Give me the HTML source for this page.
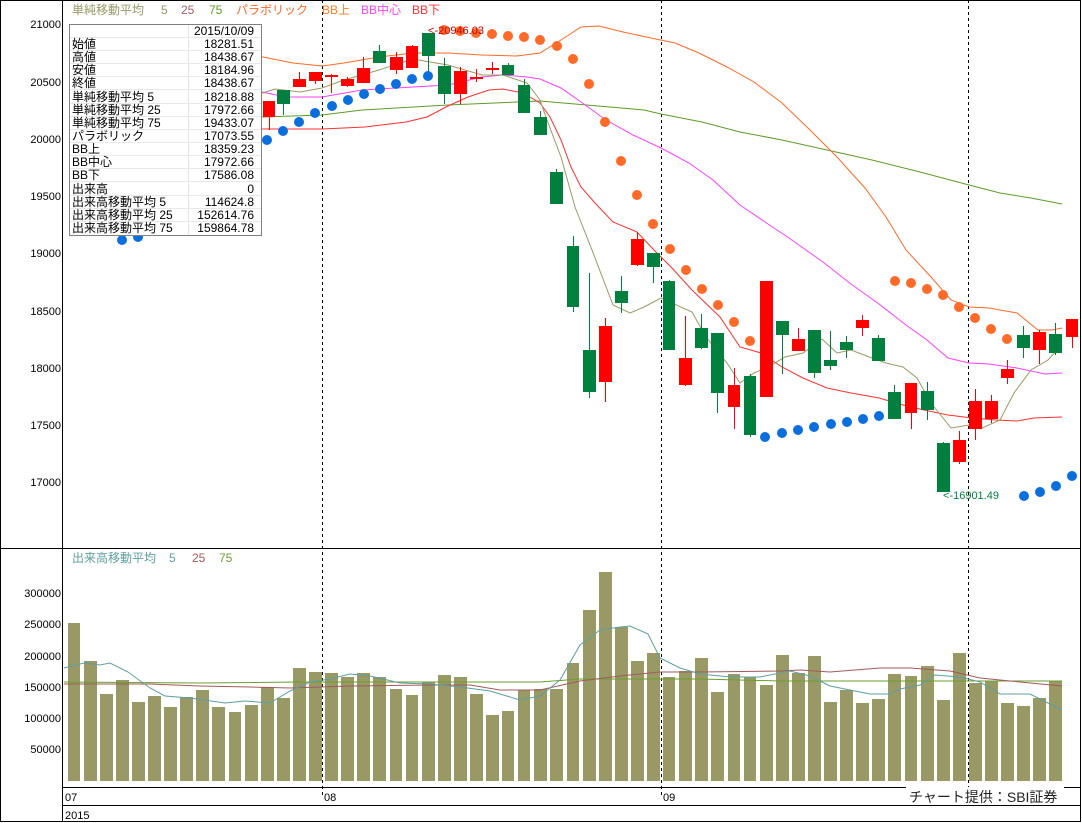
<!DOCTYPE html>
<html><head><meta charset="utf-8"><style>
html,body{margin:0;padding:0;background:#fff}
svg{display:block}
text{font-family:"Liberation Sans","Noto Sans CJK JP",sans-serif}
</style></head><body>
<svg width="1082" height="823" viewBox="0 0 1082 823" xmlns="http://www.w3.org/2000/svg">
<rect x="0" y="0" width="1082" height="823" fill="#fff"/>
<g stroke="#000" stroke-width="1" stroke-dasharray="3,3">
<line x1="322.5" y1="0" x2="322.5" y2="797"/>
<line x1="661.5" y1="0" x2="661.5" y2="797"/>
<line x1="968.5" y1="0" x2="968.5" y2="797"/>
</g>
<g fill="none" stroke-width="1">
<polyline stroke="#5f9a2a" points="253,117 263,117 322,115 362,110 448,105 540,101 575,104 644,110 661,114 702,122 740,132 782,140 827,150 872,160 920,172 969,185 1000,193 1031,198 1062,204"/>
<polyline stroke="#ff6a28" points="253,57 263,57 293,63 322,66 344,63 379,57 413,53 448,53 482,55 517,56 540,53 561,40 581,27 599,26 623,32 651,38 675,43 699,53 727,67 754,82 782,103 810,130 837,157 865,188 886,217 906,250 931,277 951,300 969,307 989,308 1017,313 1038,330 1052,330 1062,328"/>
<polyline stroke="#ff40ff" points="253,90 262,92 286,97 322,97 362,90 413,87 448,85 482,77 503,75 527,77 540,79 561,88 581,102 606,120 633,135 661,148 689,163 713,180 740,205 765,222 789,238 813,255 823,262 851,284 879,304 906,325 927,340 948,358 969,363 989,364 1017,368 1045,374 1062,373"/>
<polyline stroke="#ff3030" points="253,129 263,129 322,129 365,127 406,122 427,117 448,106 468,97 489,90 503,89 523,93 540,103 550,117 561,140 571,167 581,187 595,203 613,222 637,232 654,250 671,267 692,290 720,317 740,347 761,353 782,367 803,378 827,388 851,393 879,398 903,405 924,410 948,415 972,418 996,420 1017,421 1034,418 1062,417"/>
<polyline stroke="#999966" points="253,96 275,89 300,92 322,88 344,80 379,70 413,59 430,62 448,65 482,75 503,75 527,83 540,100 547,120 561,157 575,207 592,250 613,305 630,313 644,307 661,298 692,312 706,337 727,363 740,383 754,373 768,367 785,357 803,353 822,339 837,353 851,350 872,358 886,363 903,367 917,378 931,403 951,428 969,425 982,428 1000,420 1014,393 1031,370 1048,360 1062,345"/>
</g>
<g fill="#ff0000" stroke="#ff0000">
<line x1="269.5" y1="101" x2="269.5" y2="130"/><rect x="263" y="101" width="12" height="16" stroke="none"/>
<line x1="299.5" y1="72" x2="299.5" y2="87"/><rect x="293" y="79" width="13" height="8" stroke="none"/>
<line x1="315.5" y1="72" x2="315.5" y2="84"/><rect x="309" y="72" width="13" height="9" stroke="none"/>
<line x1="331.5" y1="74" x2="331.5" y2="93"/><rect x="325" y="75" width="13" height="2" stroke="none"/>
<line x1="347.5" y1="77" x2="347.5" y2="87"/><rect x="341" y="79" width="13" height="7" stroke="none"/>
<line x1="363.5" y1="57" x2="363.5" y2="83"/><rect x="357" y="68" width="13" height="15" stroke="none"/>
<line x1="396.5" y1="52" x2="396.5" y2="74"/><rect x="390" y="57" width="13" height="13" stroke="none"/>
<line x1="412.5" y1="45" x2="412.5" y2="68"/><rect x="406" y="46" width="12" height="22" stroke="none"/>
<line x1="460.5" y1="67" x2="460.5" y2="104"/><rect x="454" y="71" width="13" height="23" stroke="none"/>
<line x1="476.5" y1="69" x2="476.5" y2="82"/><rect x="470" y="77" width="13" height="2" stroke="none"/>
<line x1="492.5" y1="62" x2="492.5" y2="74"/><rect x="486" y="68" width="13" height="2" stroke="none"/>
<line x1="605.5" y1="318" x2="605.5" y2="402"/><rect x="599" y="326" width="13" height="56" stroke="none"/>
<line x1="637.5" y1="232" x2="637.5" y2="266"/><rect x="631" y="239" width="13" height="26" stroke="none"/>
<line x1="685.5" y1="316" x2="685.5" y2="386"/><rect x="679" y="358" width="13" height="27" stroke="none"/>
<line x1="734.5" y1="368" x2="734.5" y2="429"/><rect x="728" y="385" width="12" height="22" stroke="none"/>
<rect x="760" y="281" width="13" height="116" stroke="none"/>
<line x1="798.5" y1="328" x2="798.5" y2="351"/><rect x="792" y="339" width="13" height="12" stroke="none"/>
<line x1="862.5" y1="315" x2="862.5" y2="336"/><rect x="856" y="320" width="13" height="8" stroke="none"/>
<line x1="911.5" y1="383" x2="911.5" y2="429"/><rect x="905" y="383" width="12" height="30" stroke="none"/>
<line x1="959.5" y1="431" x2="959.5" y2="464"/><rect x="953" y="440" width="13" height="22" stroke="none"/>
<line x1="975.5" y1="389" x2="975.5" y2="440"/><rect x="969" y="401" width="13" height="28" stroke="none"/>
<line x1="991.5" y1="395" x2="991.5" y2="423"/><rect x="985" y="401" width="13" height="18" stroke="none"/>
<line x1="1007.5" y1="360" x2="1007.5" y2="384"/><rect x="1001" y="369" width="13" height="9" stroke="none"/>
<line x1="1039.5" y1="330" x2="1039.5" y2="364"/><rect x="1033" y="332" width="13" height="18" stroke="none"/>
<line x1="1072.5" y1="319" x2="1072.5" y2="348"/><rect x="1066" y="319" width="12" height="18" stroke="none"/>
</g>
<g fill="#007f3f" stroke="#007f3f">
<line x1="283.5" y1="90" x2="283.5" y2="115"/><rect x="277" y="90" width="13" height="14" stroke="none"/>
<line x1="379.5" y1="45" x2="379.5" y2="63"/><rect x="373" y="51" width="13" height="12" stroke="none"/>
<line x1="428.5" y1="33" x2="428.5" y2="72"/><rect x="422" y="33" width="13" height="23" stroke="none"/>
<line x1="444.5" y1="58" x2="444.5" y2="104"/><rect x="438" y="66" width="13" height="28" stroke="none"/>
<line x1="508.5" y1="63" x2="508.5" y2="75"/><rect x="502" y="65" width="12" height="10" stroke="none"/>
<line x1="524.5" y1="79" x2="524.5" y2="113"/><rect x="518" y="85" width="12" height="28" stroke="none"/>
<line x1="540.5" y1="111" x2="540.5" y2="135"/><rect x="534" y="117" width="13" height="18" stroke="none"/>
<line x1="556.5" y1="169" x2="556.5" y2="204"/><rect x="550" y="172" width="13" height="32" stroke="none"/>
<line x1="573.5" y1="236" x2="573.5" y2="312"/><rect x="567" y="246" width="12" height="61" stroke="none"/>
<line x1="589.5" y1="273" x2="589.5" y2="398"/><rect x="583" y="350" width="13" height="42" stroke="none"/>
<line x1="621.5" y1="276" x2="621.5" y2="313"/><rect x="615" y="291" width="13" height="12" stroke="none"/>
<line x1="653.5" y1="253" x2="653.5" y2="283"/><rect x="647" y="253" width="13" height="14" stroke="none"/>
<line x1="669.5" y1="280" x2="669.5" y2="350"/><rect x="663" y="281" width="12" height="69" stroke="none"/>
<line x1="701.5" y1="314" x2="701.5" y2="349"/><rect x="695" y="328" width="13" height="20" stroke="none"/>
<line x1="717.5" y1="333" x2="717.5" y2="413"/><rect x="711" y="333" width="13" height="60" stroke="none"/>
<line x1="750.5" y1="374" x2="750.5" y2="437"/><rect x="744" y="376" width="12" height="59" stroke="none"/>
<line x1="782.5" y1="321" x2="782.5" y2="374"/><rect x="776" y="321" width="13" height="14" stroke="none"/>
<line x1="814.5" y1="330" x2="814.5" y2="378"/><rect x="808" y="330" width="13" height="43" stroke="none"/>
<line x1="830.5" y1="331" x2="830.5" y2="370"/><rect x="824" y="360" width="13" height="6" stroke="none"/>
<line x1="846.5" y1="336" x2="846.5" y2="358"/><rect x="840" y="342" width="13" height="8" stroke="none"/>
<line x1="878.5" y1="335" x2="878.5" y2="361"/><rect x="872" y="338" width="13" height="23" stroke="none"/>
<line x1="894.5" y1="385" x2="894.5" y2="419"/><rect x="888" y="392" width="13" height="27" stroke="none"/>
<line x1="927.5" y1="382" x2="927.5" y2="420"/><rect x="921" y="391" width="13" height="19" stroke="none"/>
<line x1="943.5" y1="442" x2="943.5" y2="492"/><rect x="937" y="443" width="13" height="49" stroke="none"/>
<line x1="1023.5" y1="326" x2="1023.5" y2="358"/><rect x="1017" y="335" width="13" height="13" stroke="none"/>
<line x1="1055.5" y1="323" x2="1055.5" y2="355"/><rect x="1049" y="334" width="13" height="19" stroke="none"/>
</g>
<g fill="#ff6a28">
<circle cx="444" cy="30" r="5"/><circle cx="460" cy="31" r="5"/><circle cx="476" cy="33" r="5"/><circle cx="492" cy="34" r="5"/><circle cx="508" cy="36" r="5"/><circle cx="524" cy="37" r="5"/><circle cx="540" cy="40" r="5"/><circle cx="557" cy="46" r="5"/><circle cx="573" cy="59" r="5"/><circle cx="589" cy="84" r="5"/><circle cx="605" cy="122" r="5"/><circle cx="621" cy="161" r="5"/><circle cx="637" cy="195" r="5"/><circle cx="653" cy="224" r="5"/><circle cx="670" cy="249" r="5"/><circle cx="686" cy="270" r="5"/><circle cx="702" cy="289" r="5"/><circle cx="718" cy="305" r="5"/><circle cx="734" cy="322" r="5"/><circle cx="750" cy="341" r="5"/>
<circle cx="895" cy="281" r="5"/><circle cx="911" cy="283" r="5"/><circle cx="927" cy="289" r="5"/><circle cx="943" cy="295" r="5"/><circle cx="959" cy="307" r="5"/><circle cx="975" cy="318" r="5"/><circle cx="991" cy="329" r="5"/><circle cx="1007" cy="339" r="5"/>
</g>
<g fill="#0a6fdc">
<circle cx="122" cy="240" r="5"/><circle cx="138" cy="237" r="5"/>
<circle cx="267" cy="140" r="5"/><circle cx="283" cy="131" r="5"/><circle cx="299" cy="122" r="5"/><circle cx="315" cy="113" r="5"/><circle cx="332" cy="106" r="5"/><circle cx="348" cy="100" r="5"/><circle cx="364" cy="94" r="5"/><circle cx="380" cy="89" r="5"/><circle cx="396" cy="84" r="5"/><circle cx="412" cy="79" r="5"/><circle cx="428" cy="76" r="5"/>
<circle cx="765" cy="437" r="5"/><circle cx="782" cy="433" r="5"/><circle cx="798" cy="430" r="5"/><circle cx="814" cy="427" r="5"/><circle cx="831" cy="424" r="5"/><circle cx="847" cy="422" r="5"/><circle cx="863" cy="419" r="5"/><circle cx="879" cy="416" r="5"/>
<circle cx="1024" cy="496" r="5"/><circle cx="1040" cy="492" r="5"/><circle cx="1056" cy="486" r="5"/><circle cx="1072" cy="476" r="5"/>
</g>
<text x="428" y="34" font-size="11" fill="#c00000">&lt;-20946.03</text>
<text x="943" y="499" font-size="11" fill="#007f3f">&lt;-16901.49</text>
<g font-size="12">
<text x="72" y="14" fill="#999966">単純移動平均</text>
<text x="161" y="14" fill="#999966">5</text>
<text x="181" y="14" fill="#a0606a">25</text>
<text x="209" y="14" fill="#5f9a2a">75</text>
<text x="236" y="14" fill="#ff6a28">パラボリック</text>
<text x="322" y="14" fill="#ff7f27">BB上</text>
<text x="361" y="14" fill="#ff40ff">BB中心</text>
<text x="412" y="14" fill="#ff3030">BB下</text>
</g>
<rect x="69.5" y="24.5" width="192" height="211" fill="#fff" stroke="#808080"/>
<line x1="188.5" y1="25" x2="188.5" y2="235" stroke="#e4e4e4"/>
<g stroke="#e8e8e8">
<line x1="70" y1="37.5" x2="261" y2="37.5"/><line x1="70" y1="50.5" x2="261" y2="50.5"/><line x1="70" y1="63.5" x2="261" y2="63.5"/><line x1="70" y1="76.5" x2="261" y2="76.5"/><line x1="70" y1="89.5" x2="261" y2="89.5"/><line x1="70" y1="103.5" x2="261" y2="103.5"/><line x1="70" y1="116.5" x2="261" y2="116.5"/><line x1="70" y1="129.5" x2="261" y2="129.5"/><line x1="70" y1="142.5" x2="261" y2="142.5"/><line x1="70" y1="155.5" x2="261" y2="155.5"/><line x1="70" y1="168.5" x2="261" y2="168.5"/><line x1="70" y1="181.5" x2="261" y2="181.5"/><line x1="70" y1="195.5" x2="261" y2="195.5"/><line x1="70" y1="208.5" x2="261" y2="208.5"/><line x1="70" y1="221.5" x2="261" y2="221.5"/>
</g>
<g font-size="12" fill="#000">
<text x="72" y="48">始値</text><text x="72" y="61">高値</text><text x="72" y="74">安値</text><text x="72" y="87">終値</text><text x="72" y="101">単純移動平均 5</text><text x="72" y="114">単純移動平均 25</text><text x="72" y="127">単純移動平均 75</text><text x="72" y="140">パラボリック</text><text x="72" y="153">BB上</text><text x="72" y="166">BB中心</text><text x="72" y="179">BB下</text><text x="72" y="193">出来高</text><text x="72" y="206">出来高移動平均 5</text><text x="72" y="219">出来高移動平均 25</text><text x="72" y="232">出来高移動平均 75</text>
</g>
<g font-size="12" fill="#000" text-anchor="end">
<text x="254" y="35">2015/10/09</text>
<text x="254" y="48">18281.51</text><text x="254" y="61">18438.67</text><text x="254" y="74">18184.96</text><text x="254" y="87">18438.67</text><text x="254" y="101">18218.88</text><text x="254" y="114">17972.66</text><text x="254" y="127">19433.07</text><text x="254" y="140">17073.55</text><text x="254" y="153">18359.23</text><text x="254" y="166">17972.66</text><text x="254" y="179">17586.08</text><text x="254" y="193">0</text><text x="254" y="206">114624.8</text><text x="254" y="219">152614.76</text><text x="254" y="232">159864.78</text>
</g>
<g font-size="11" fill="#000" text-anchor="end">
<text x="61" y="28">21000</text><text x="61" y="86">20500</text><text x="61" y="143">20000</text><text x="61" y="200">19500</text><text x="61" y="257">19000</text><text x="61" y="315">18500</text><text x="61" y="372">18000</text><text x="61" y="429">17500</text><text x="61" y="486">17000</text>
<text x="61" y="597">300000</text><text x="61" y="628">250000</text><text x="61" y="660">200000</text><text x="61" y="691">150000</text><text x="61" y="722">100000</text><text x="61" y="753">50000</text>
</g>
<g fill="#999966">
<rect x="68" y="623" width="12" height="158"/><rect x="84" y="661" width="13" height="120"/><rect x="100" y="694" width="13" height="87"/><rect x="116" y="680" width="13" height="101"/><rect x="132" y="702" width="13" height="79"/><rect x="148" y="696" width="13" height="85"/><rect x="164" y="707" width="13" height="74"/><rect x="180" y="697" width="13" height="84"/><rect x="196" y="690" width="13" height="91"/><rect x="212" y="707" width="13" height="74"/><rect x="229" y="712" width="12" height="69"/><rect x="245" y="705" width="13" height="76"/><rect x="261" y="687" width="13" height="94"/><rect x="277" y="698" width="13" height="83"/><rect x="293" y="668" width="13" height="113"/><rect x="309" y="672" width="13" height="109"/>
<rect x="325" y="673" width="13" height="108"/><rect x="341" y="677" width="13" height="104"/><rect x="357" y="673" width="13" height="108"/><rect x="373" y="677" width="13" height="104"/><rect x="390" y="689" width="12" height="92"/><rect x="406" y="695" width="12" height="86"/><rect x="422" y="682" width="13" height="99"/><rect x="438" y="675" width="13" height="106"/><rect x="454" y="677" width="13" height="104"/><rect x="470" y="694" width="13" height="87"/><rect x="486" y="715" width="13" height="66"/><rect x="502" y="711" width="12" height="70"/><rect x="518" y="690" width="12" height="91"/><rect x="534" y="689" width="13" height="92"/>
<rect x="550" y="689" width="13" height="92"/><rect x="567" y="663" width="12" height="118"/><rect x="583" y="610" width="13" height="171"/><rect x="599" y="572" width="13" height="209"/><rect x="615" y="627" width="13" height="154"/><rect x="631" y="661" width="13" height="120"/><rect x="647" y="653" width="13" height="128"/><rect x="663" y="677" width="12" height="104"/><rect x="679" y="671" width="13" height="110"/><rect x="695" y="658" width="13" height="123"/><rect x="711" y="692" width="13" height="89"/><rect x="728" y="674" width="12" height="107"/><rect x="744" y="677" width="12" height="104"/><rect x="760" y="685" width="13" height="96"/><rect x="776" y="655" width="13" height="126"/><rect x="792" y="673" width="13" height="108"/><rect x="808" y="656" width="13" height="125"/><rect x="824" y="702" width="13" height="79"/><rect x="840" y="690" width="13" height="91"/><rect x="856" y="703" width="13" height="78"/><rect x="872" y="699" width="13" height="82"/><rect x="888" y="674" width="13" height="107"/><rect x="905" y="676" width="12" height="105"/><rect x="921" y="666" width="13" height="115"/><rect x="937" y="700" width="13" height="81"/><rect x="953" y="653" width="13" height="128"/><rect x="969" y="683" width="13" height="98"/><rect x="985" y="681" width="13" height="100"/><rect x="1001" y="703" width="13" height="78"/><rect x="1017" y="706" width="13" height="75"/><rect x="1033" y="698" width="13" height="83"/><rect x="1049" y="681" width="13" height="100"/>
</g>
<g fill="none" stroke-width="1">
<polyline stroke="#6b9e2e" points="64,682 200,683 300,682 540,682 580,679 700,679 780,681 900,681 1062,681"/>
<polyline stroke="#a05a5a" points="64,684 150,684 200,686 250,687 290,688 350,686 430,685 470,685 500,690 540,690 580,681 620,676 660,672 700,672 780,671 800,670 830,672 880,668 910,668 950,671 980,678 1010,681 1062,686"/>
<polyline stroke="#5f9ea0" points="64,668 84,663 100,665 110,663 128,672 150,688 165,696 190,698 225,703 245,701 270,703 290,691 310,682 330,679 350,674 370,676 400,683 430,684 460,687 490,691 520,700 540,696 560,680 580,645 600,630 620,627 630,626 648,634 660,658 680,668 700,674 730,677 760,677 790,671 810,676 830,686 870,694 890,694 900,689 920,685 935,675 960,677 980,682 1000,694 1030,694 1062,710"/>
</g>
<g font-size="12">
<text x="72" y="562" fill="#5f9ea0">出来高移動平均</text>
<text x="169" y="562" fill="#5f9ea0">5</text>
<text x="192" y="562" fill="#a05a5a">25</text>
<text x="219" y="562" fill="#6b9e2e">75</text>
</g>
<g stroke="#000" stroke-width="1" fill="none">
<rect x="0.5" y="0.5" width="1080" height="821"/>
<line x1="62.5" y1="0" x2="62.5" y2="822"/>
<line x1="0" y1="548.5" x2="1081" y2="548.5"/>
<line x1="62" y1="787.5" x2="1081" y2="787.5"/>
<line x1="62" y1="805.5" x2="1081" y2="805.5"/>
</g>
<g font-size="11" fill="#000">
<text x="65" y="801">07</text><text x="324" y="801">08</text><text x="663" y="801">09</text><text x="65" y="819">2015</text>
</g>
<rect x="906" y="787" width="158" height="18" fill="#fff"/>
<text x="909" y="802" font-size="14" fill="#222">チャート提供：SBI証券</text>
</svg>
</body></html>
